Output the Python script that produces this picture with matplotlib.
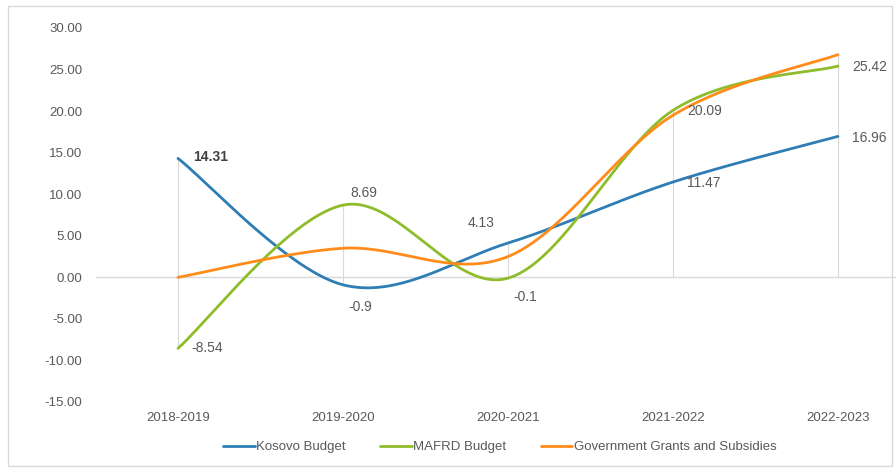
import matplotlib
matplotlib.use('Agg')
import matplotlib.pyplot as plt
import numpy as np
from matplotlib.patches import Rectangle

plt.rcParams['font.family'] = ['Liberation Sans Narrow', 'Liberation Sans', 'DejaVu Sans']

# growth rates (%) per fiscal year
periods = ['2018-2019', '2019-2020', '2020-2021', '2021-2022', '2022-2023']
kosovo_budget = [14.31, -0.9, 4.13, 11.47, 16.96]
mafrd_budget = [-8.54, 8.69, -0.1, 20.09, 25.42]
grants_subsidies = [0.0, 3.5, 2.5, 19.5, 26.8]
yticks = [-15, -10, -5, 0, 5, 10, 15, 20, 25, 30]

BLUE, GREEN, ORANGE = '#2E7DB4', '#8FBC2B', '#FF8C1A'
GREY_TXT = '#595959'
GREY_LN = '#D9D9D9'

# label offsets in pixels (dx to left edge of text, dy up)
blue_offs = [(15, 1), (5, -22), (-40, 20), (14, -1), (14, -2)]
green_offs = [(13, 0), (7, 12), (5, -19), (14, -1), (14, -1)]


def smooth(xs, ys, n=40):
    """Bezier smoothing in the style of spreadsheet 'smoothed line' charts."""
    pts = np.column_stack([xs, ys]).astype(float)
    ext = np.vstack([pts[0], pts, pts[-1]])
    out = []
    for i in range(len(pts) - 1):
        p0, p1, p2, p3 = ext[i], ext[i + 1], ext[i + 2], ext[i + 3]
        c1 = p1 + (p2 - p0) / 6.0
        c2 = p2 - (p3 - p1) / 6.0
        t = np.linspace(0, 1, n)[:, None]
        seg = ((1 - t) ** 3) * p1 + 3 * ((1 - t) ** 2) * t * c1 + 3 * (1 - t) * t ** 2 * c2 + t ** 3 * p2
        out.append(seg if i == 0 else seg[1:])
    out = np.vstack(out)
    return out[:, 0], out[:, 1]


W, H = 896, 468
fig = plt.figure(figsize=(W / 100, H / 100), dpi=100)
fig.patches.append(Rectangle((8 / W, 2 / H), (W - 12) / W, (H - 8) / H,
                             transform=fig.transFigure, fill=False,
                             edgecolor='#D9D9D9', linewidth=1.0))

x0_px, step_px = 178, 165
left_px = x0_px - step_px / 2
ax = fig.add_axes([left_px / W, (H - 402) / H, (W - left_px) / W, (402 - 28) / H])
x = np.arange(len(periods))
ax.set_xlim(-0.5, (W - x0_px) / step_px)
ax.set_ylim(-15, 30)

# drop lines and zero axis
for i in range(len(periods)):
    vals = [kosovo_budget[i], mafrd_budget[i], grants_subsidies[i]]
    ax.plot([i, i], [min(0, min(vals)), max(0, max(vals))], color=GREY_LN, lw=0.8, zorder=1)
ax.axhline(0, color=GREY_LN, lw=1.0, zorder=1)

series = [('Kosovo Budget', kosovo_budget, BLUE),
          ('MAFRD Budget', mafrd_budget, GREEN),
          ('Government Grants and Subsidies', grants_subsidies, ORANGE)]
for name, ys, col in series:
    sx, sy = smooth(x, ys)
    ax.plot(sx, sy, color=col, lw=2.0, label=name, solid_capstyle='round', zorder=3)

for i, v in enumerate(kosovo_budget):
    dx, dy = blue_offs[i]
    ax.annotate(f'{v:g}', (i, v), xytext=(dx, dy), textcoords='offset pixels',
                ha='left', va='center', fontsize=10, color=GREY_TXT if i else '#404040',
                fontweight='bold' if i == 0 else 'normal', zorder=4)
for i, v in enumerate(mafrd_budget):
    dx, dy = green_offs[i]
    ax.annotate(f'{v:g}', (i, v), xytext=(dx, dy), textcoords='offset pixels',
                ha='left', va='center', fontsize=10, color=GREY_TXT, zorder=4)

ax.set_xticks(x)
ax.set_xticklabels(periods)
ax.set_yticks(yticks)
ax.set_yticklabels([f'{t:.2f}' for t in yticks])
ax.tick_params(axis='both', length=0, labelsize=9.5, labelcolor=GREY_TXT)
ax.tick_params(axis='x', pad=7)
ax.tick_params(axis='y', pad=9.5)
for sp in ax.spines.values():
    sp.set_visible(False)

fig.legend(loc='center', bbox_to_anchor=(500 / W, (H - 447) / H), ncol=3, frameon=False,
           fontsize=9.5, labelcolor=GREY_TXT, handlelength=2.4, handletextpad=0.1,
           columnspacing=2.6)

fig.savefig('out.png', dpi=100)
